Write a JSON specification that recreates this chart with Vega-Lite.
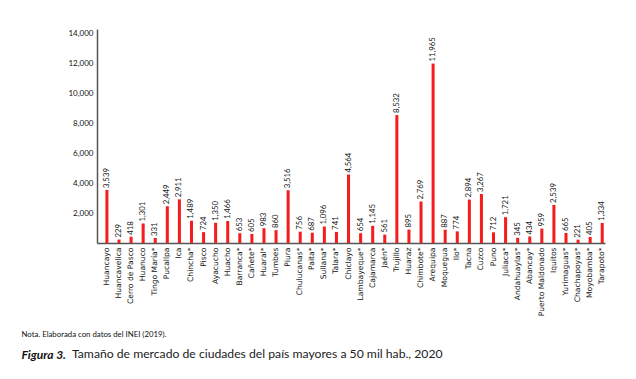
{
  "$schema": "https://vega.github.io/schema/vega-lite/v6.json",
  "width": 508,
  "height": 214,
  "autosize": "none",
  "padding": {"left": 97, "top": 29, "right": 31, "bottom": 136},
  "background": "white",
  "config": {"view": {"stroke": null}, "font": "Lato"},
  "title": {
    "text": "Tamaño de mercado de ciudades del país mayores a 50 mil hab., 2020",
    "orient": "bottom",
    "anchor": "start",
    "frame": "group",
    "dx": -25,
    "offset": -12,
    "fontSize": 12.2,
    "fontWeight": "normal",
    "color": "#222222",
    "font": "Lato"
  },
  "data": {
    "values": [
      {"city": "Huancayo", "value": 3539},
      {"city": "Huancavelica", "value": 229},
      {"city": "Cerro de Pasco", "value": 418},
      {"city": "Huanuco", "value": 1301},
      {"city": "Tingo María*", "value": 331},
      {"city": "Pucallpa", "value": 2449},
      {"city": "Ica", "value": 2911},
      {"city": "Chincha*", "value": 1489},
      {"city": "Pisco", "value": 724},
      {"city": "Ayacucho", "value": 1350},
      {"city": "Huacho", "value": 1466},
      {"city": "Barranca*", "value": 653},
      {"city": "Cañete*", "value": 605},
      {"city": "Huaral*", "value": 983},
      {"city": "Tumbes", "value": 860},
      {"city": "Piura", "value": 3516},
      {"city": "Chulucanas*", "value": 756},
      {"city": "Paita*", "value": 687},
      {"city": "Sullana*", "value": 1096},
      {"city": "Talara*", "value": 741},
      {"city": "Chiclayo", "value": 4564},
      {"city": "Lambayeque*", "value": 654},
      {"city": "Cajamarca", "value": 1145},
      {"city": "Jaén*", "value": 561},
      {"city": "Trujillo", "value": 8532},
      {"city": "Huaraz", "value": 895},
      {"city": "Chimbote*", "value": 2769},
      {"city": "Arequipa", "value": 11965},
      {"city": "Moquegua", "value": 887},
      {"city": "Ilo*", "value": 774},
      {"city": "Tacna", "value": 2894},
      {"city": "Cuzco", "value": 3267},
      {"city": "Puno", "value": 712},
      {"city": "Juliaca*", "value": 1721},
      {"city": "Andahuaylas*", "value": 345},
      {"city": "Abancay*", "value": 434},
      {"city": "Puerto Maldonado", "value": 959},
      {"city": "Iquitos", "value": 2539},
      {"city": "Yurimaguas*", "value": 665},
      {"city": "Chachapoyas*", "value": 221},
      {"city": "Moyobamba*", "value": 405},
      {"city": "Tarapoto*", "value": 1334}
    ]
  },
  "encoding": {
    "x": {
      "field": "city",
      "type": "nominal",
      "sort": null,
      "scale": {"paddingInner": 0.75, "paddingOuter": 0.4, "align": 0.87},
      "axis": {
        "title": "Nota. Elaborada con datos del INEI (2019).",
        "titleFont": "Lato",
        "titleFontSize": 7.8,
        "titleFontWeight": "normal",
        "titleColor": "#111111",
        "titleX": -76,
        "titleY": 91,
        "titleAlign": "left",
        "titleBaseline": "middle",
        "titleAngle": 0,
        "labelAngle": -90,
        "labelFont": "DejaVu Sans",
        "labelFontSize": 7.6,
        "labelColor": "#111111",
        "labelPadding": 4,
        "ticks": false,
        "domainColor": "#555555",
        "domainWidth": 1.5,
        "labelOverlap": false
      }
    },
    "y": {
      "field": "value",
      "type": "quantitative",
      "scale": {"domain": [0, 14270], "nice": false},
      "axis": {
        "values": [2000, 4000, 6000, 8000, 10000, 12000, 14000],
        "format": ",.0f",
        "grid": false,
        "ticks": false,
        "labelFontSize": 8,
        "labelColor": "#111111",
        "labelPadding": 4,
        "domainColor": "#555555",
        "domainWidth": 1.5,
        "title": "Figura 3.",
        "titleFont": "Lato",
        "titleFontSize": 12,
        "titleFontWeight": "bold",
        "titleFontStyle": "italic",
        "titleColor": "#111111",
        "titleAngle": 0,
        "titleX": -76,
        "titleY": 325,
        "titleAlign": "left",
        "titleBaseline": "middle"
      }
    }
  },
  "layer": [
    {"mark": {"type": "bar", "color": "#f41c1c"}},
    {
      "mark": {"type": "text", "angle": 270, "align": "left", "baseline": "middle", "dx": 2, "fontSize": 7.8, "color": "#111111"},
      "encoding": {"text": {"field": "value", "type": "quantitative", "format": ","}}
    }
  ]
}
